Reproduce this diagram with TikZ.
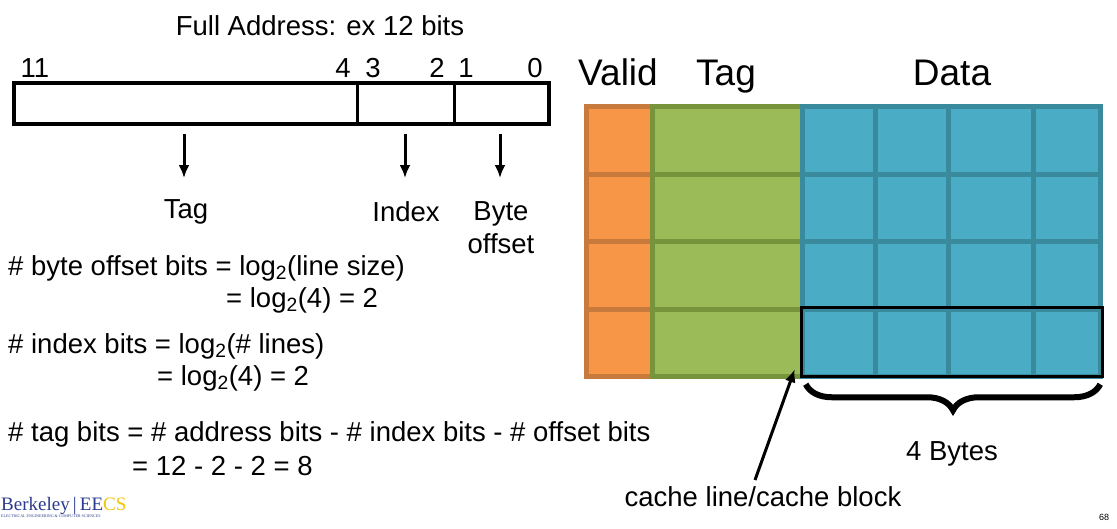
\documentclass[tikz,border=0pt]{standalone}
\usepackage{fontspec}
\setmainfont{Liberation Sans}
\newfontfamily\logofont{Liberation Serif}
\usetikzlibrary{positioning}
\usetikzlibrary{arrows.meta}
\usetikzlibrary{decorations.pathreplacing}
\definecolor{validfill}{HTML}{F79646}
\definecolor{validline}{HTML}{C77A3C}
\definecolor{tagfill}{HTML}{9BBB59}
\definecolor{tagline}{HTML}{77933C}
\definecolor{datafill}{HTML}{4BACC6}
\definecolor{dataline}{HTML}{3A8A9E}
\definecolor{logoblue}{HTML}{2B3A8C}
\definecolor{logogold}{HTML}{F2C500}
\begin{document}
\begin{tikzpicture}[x=1pt,y=-1pt,
            txt/.style = {font=\fontsize{27.5}{33}\selectfont,inner sep=0pt},
            head/.style = {font=\fontsize{37}{42}\selectfont,inner sep=0pt,anchor=base},
            field/.style = {draw,line width=4pt,inner sep=0pt},
            down/.style = {-{Latex[length=13pt,width=11pt]},line width=3pt},
            cell/.style = {line width=5pt}]
            \useasboundingbox (0,0) rectangle (1117,528);
            % address word
            \node[txt] (title) at (320,26) {Full Address: ex 12 bits};
            \draw[field] (14,83) rectangle (549,124);
            \coordinate (cut1) at (357,83);
            \coordinate (cut2) at (454,83);
            \draw[line width=3pt] (cut1) -- ++(0,41);
            \draw[line width=3pt] (cut2) -- ++(0,41);
            \foreach \b/\x in {11/35,4/343,3/373,2/437,1/466,0/535}
                \node[txt,anchor=base] (bit\b) at (\x,77) {\b};
            % fields
            \node[txt] (tagf) at (186,212) {Tag};
            \node[txt] (indexf) at (406,212) {Index};
            \node[txt,align=center] (offf) at (501,228) {Byte\\offset};
            \coordinate (a1) at (184,134);
            \coordinate (a2) at (405,134);
            \coordinate (a3) at (500,134);
            \draw[down] (a1) -- (a1 |- 0,178);
            \draw[down] (a2) -- (a2 |- 0,178);
            \draw[down] (a3) -- (a3 |- 0,178);
            % formulas
            \node[txt,anchor=west] (f1) at (8,268) {\# byte offset bits = log\textsubscript{2}(line size)};
            \node[txt,anchor=west] (f1b) at (226,300) {= log\textsubscript{2}(4) = 2};
            \node[txt,anchor=west] (f2) at (8,346) {\# index bits = log\textsubscript{2}(\# lines)};
            \node[txt,anchor=west] (f2b) at (157,378) {= log\textsubscript{2}(4) = 2};
            \node[txt,anchor=west] (f3) at (8,434) {\# tag bits = \# address bits - \# index bits - \# offset bits};
            \node[txt,anchor=west] (f3b) at (132,466) {= 12 - 2 - 2 = 8};
            % cache
            \node[head] (valid) at (618,85) {Valid};
            \node[head] (tagh) at (726,85) {Tag};
            \node[head] (data) at (952,85) {Data};
            \foreach \r in {0,...,3} {
                \pgfmathsetmacro\ya{106.5+67.5*\r}
                \pgfmathsetmacro\yb{\ya+67.5}
                \draw[cell,fill=validfill,draw=validline] (586.5,\ya) rectangle (652,\yb);
                \draw[cell,fill=tagfill,draw=tagline] (652,\ya) rectangle (802.5,\yb);
                \foreach \xa/\xb in {802.5/875,875/948,948/1033,1033/1100.5}
                    \draw[cell,fill=datafill,draw=dataline] (\xa,\ya) rectangle (\xb,\yb);
            }
            \node[draw,line width=3.5pt,minimum width=301pt,minimum height=69pt,
                inner sep=0pt] (line) at (952,342) {};
            \draw[decorate,decoration={brace,mirror,amplitude=26pt},line width=6pt]
                ([xshift=6pt,yshift=-6pt]line.south west) -- coordinate (bmid) ([xshift=-4pt,yshift=-6pt]line.south east);
            \node[txt] (bytes) at (952,454) {4 Bytes};
            \node[txt] (block) at (763,497) {cache line/cache block};
            \coordinate (tail) at (755,480);
            \draw[down] (tail) -- ([xshift=-5pt,yshift=9pt]line.south west);
            % footer
            \node[font=\fontsize{9}{10}\selectfont,inner sep=0pt] (page) at (1104,517) {68};
            \node[inner sep=0pt,anchor=west,font=\logofont\fontsize{19}{20}\selectfont] (logo) at (1,506)
                {\textcolor{logoblue}{Berkeley\,|\,EE}\textcolor{logogold}{CS}};
            \node[inner sep=0pt,anchor=north west,font=\logofont\fontsize{4}{4}\selectfont,text=logoblue]
                (logosub) at (logo.south west) {ELECTRICAL ENGINEERING \& COMPUTER SCIENCES};
        \end{tikzpicture}
\end{document}
